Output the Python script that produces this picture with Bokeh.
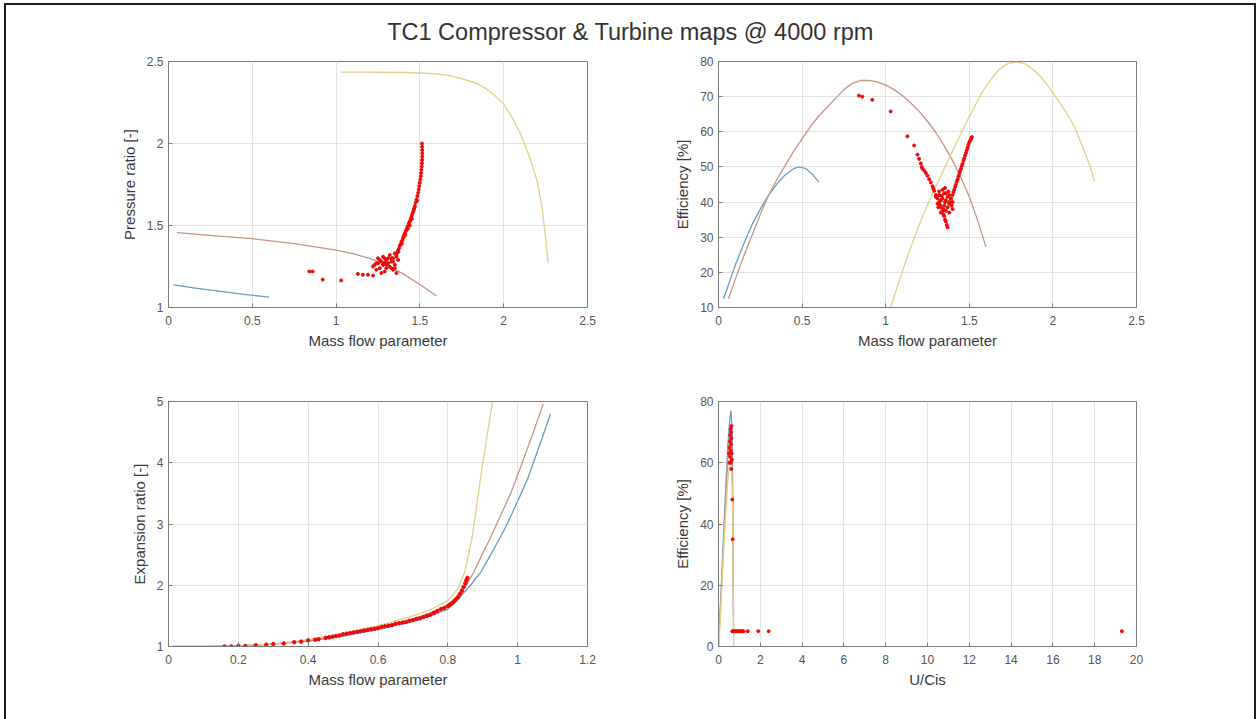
from bokeh.plotting import figure
from bokeh.layouts import column, row
from bokeh.models import Range1d, FixedTicker
from bokeh.core.properties import value
from bokeh.embed import file_html
from bokeh.resources import INLINE

TITLE = "TC1 Compressor & Turbine maps @ 4000 rpm"

# ---------------- compressor: pressure ratio vs mass flow ----------------
pr_blue_x = [0.03, 0.15, 0.30, 0.45, 0.60]
pr_blue_y = [1.138, 1.120, 1.100, 1.080, 1.063]
pr_orange_x = [0.05, 0.30, 0.50, 0.75, 1.00, 1.10, 1.20, 1.30, 1.40, 1.50, 1.60]
pr_orange_y = [1.457, 1.435, 1.420, 1.390, 1.350, 1.328, 1.300, 1.260, 1.205, 1.140, 1.070]
pr_yellow_x = [1.03, 1.20, 1.40, 1.50, 1.60, 1.70, 1.80, 1.85, 1.90, 1.95, 2.00, 2.05, 2.10,
               2.15, 2.20, 2.23, 2.25, 2.265]
pr_yellow_y = [2.435, 2.435, 2.433, 2.430, 2.425, 2.410, 2.380, 2.360, 2.330, 2.290, 2.240,
               2.160, 2.060, 1.930, 1.770, 1.600, 1.430, 1.270]
pr_meas_x = [0.84, 0.86, 0.92, 1.03, 1.13, 1.16, 1.19, 1.22,
             1.22, 1.24, 1.25, 1.26, 1.27, 1.28, 1.29, 1.30, 1.31, 1.32, 1.33, 1.34, 1.35,
             1.36, 1.34, 1.36, 1.30, 1.27, 1.25, 1.32, 1.35, 1.23, 1.29, 1.33, 1.26, 1.28,
             1.31, 1.34, 1.37, 1.30, 1.24, 1.33, 1.35, 1.29,
             1.360, 1.365, 1.370, 1.375, 1.380, 1.385, 1.390, 1.395, 1.400, 1.405, 1.410,
             1.415, 1.420, 1.425, 1.430, 1.435, 1.440, 1.445, 1.450, 1.455, 1.460, 1.465,
             1.470, 1.475, 1.480, 1.485, 1.490, 1.493, 1.496, 1.499, 1.502, 1.505, 1.507,
             1.509, 1.511, 1.512, 1.513, 1.514, 1.514, 1.514, 1.513, 1.512,
             1.372, 1.392, 1.412, 1.428, 1.440, 1.452, 1.468, 1.482]
pr_meas_y = [1.220, 1.220, 1.170, 1.165, 1.205, 1.200, 1.200, 1.195,
             1.250, 1.230, 1.270, 1.240, 1.280, 1.260, 1.220, 1.290, 1.270, 1.250, 1.300,
             1.280, 1.260, 1.310, 1.230, 1.210, 1.240, 1.210, 1.300, 1.320, 1.330, 1.260,
             1.300, 1.240, 1.290, 1.310, 1.300, 1.300, 1.290, 1.260, 1.270, 1.280, 1.240, 1.275,
             1.320, 1.335, 1.350, 1.360, 1.375, 1.385, 1.400, 1.410, 1.425, 1.440, 1.450,
             1.465, 1.475, 1.490, 1.500, 1.515, 1.525, 1.540, 1.555, 1.570, 1.585, 1.600,
             1.620, 1.640, 1.660, 1.680, 1.700, 1.720, 1.740, 1.760, 1.780, 1.800, 1.820,
             1.840, 1.860, 1.880, 1.900, 1.920, 1.940, 1.960, 1.980, 2.000,
             1.340, 1.390, 1.440, 1.480, 1.500, 1.540, 1.610, 1.650]

# ---------------- compressor: efficiency vs mass flow ----------------
ce_blue_x = [0.03, 0.06, 0.10, 0.15, 0.20, 0.25, 0.30, 0.35, 0.40, 0.45, 0.48, 0.52, 0.56, 0.60]
ce_blue_y = [12.5, 16.5, 22.0, 28.0, 33.5, 38.0, 42.0, 45.2, 47.8, 49.5, 50.0, 49.6, 48.0, 45.7]
ce_orange_x = [0.06, 0.10, 0.15, 0.20, 0.25, 0.30, 0.35, 0.40, 0.45, 0.50, 0.55, 0.60, 0.65,
               0.70, 0.75, 0.80, 0.85, 0.90, 0.95, 1.00, 1.05, 1.10, 1.15, 1.20, 1.25, 1.30,
               1.35, 1.40, 1.45, 1.50, 1.55, 1.60]
ce_orange_y = [12.5, 18.0, 24.5, 30.5, 36.5, 42.0, 46.5, 50.5, 54.5, 58.0, 61.5, 64.5, 67.0,
               69.5, 72.0, 73.8, 74.6, 74.6, 74.2, 73.3, 72.0, 70.3, 68.2, 65.8, 63.0, 59.8,
               56.0, 51.8, 47.0, 41.5, 34.8, 27.2]
ce_yellow_x = [1.03, 1.08, 1.13, 1.18, 1.23, 1.28, 1.33, 1.38, 1.43, 1.48, 1.53, 1.58, 1.63,
               1.68, 1.73, 1.78, 1.83, 1.88, 1.93, 1.98, 2.03, 2.08, 2.13, 2.18, 2.22, 2.25]
ce_yellow_y = [10.1, 17.5, 24.5, 31.0, 37.0, 42.5, 47.5, 52.5, 57.5, 62.5, 67.0, 71.5, 75.0,
               77.8, 79.4, 79.9, 79.4, 77.8, 75.5, 72.5, 69.0, 65.5, 61.3, 55.5, 50.5, 45.7]
ce_meas_x = [0.84, 0.86, 0.92, 1.03,
             1.13, 1.17, 1.19, 1.20, 1.21, 1.215, 1.22, 1.23, 1.24, 1.25, 1.26, 1.27, 1.28,
             1.285, 1.29, 1.30, 1.31, 1.32, 1.325, 1.33, 1.34, 1.345, 1.35, 1.355, 1.36,
             1.365, 1.37,
             1.30, 1.31, 1.32, 1.33, 1.34, 1.35, 1.36, 1.37, 1.38, 1.39, 1.40, 1.35,
             1.33, 1.36, 1.38, 1.37, 1.345, 1.355, 1.32, 1.34, 1.36, 1.38, 1.40, 1.335,
             1.375, 1.395, 1.315, 1.355,
             1.38, 1.39, 1.40, 1.405, 1.41, 1.415, 1.42, 1.425, 1.43, 1.435, 1.44, 1.445,
             1.45, 1.455, 1.46, 1.465, 1.47, 1.475, 1.48, 1.485, 1.49, 1.495, 1.50, 1.505,
             1.51, 1.515]
ce_meas_y = [70.3, 70.0, 69.1, 65.8,
             58.7, 56.1, 53.5, 52.3, 51.0, 50.0, 49.5, 49.0, 48.3, 47.5, 46.5, 45.6, 44.5,
             43.8, 43.2, 42.0, 41.0, 40.0, 39.2, 38.5, 37.5, 36.5, 36.0, 35.0, 34.5,
             33.5, 32.8,
             41.5, 39.5, 42.0, 40.5, 41.0, 39.0, 40.5, 38.5, 39.5, 41.0, 38.0, 42.5,
             37.0, 37.5, 37.0, 41.5, 38.0, 40.0, 43.0, 43.5, 42.5, 42.0, 40.0, 41.8,
             43.0, 39.0, 38.5, 44.0,
             40.0, 41.0, 42.0, 42.8, 43.5, 44.3, 45.0, 45.8, 46.5, 47.3, 48.0, 48.8,
             49.5, 50.3, 51.0, 51.8, 52.5, 53.3, 54.0, 54.8, 55.5, 56.3, 57.0, 57.5,
             58.0, 58.5]

# ---------------- turbine: expansion ratio vs mass flow ----------------
er_blue_x = [0.01, 0.10, 0.20, 0.30, 0.40, 0.50, 0.60, 0.70, 0.75, 0.80, 0.83, 0.865,
             0.895, 0.923, 0.95, 0.97, 0.99, 1.01, 1.03, 1.045, 1.07, 1.094]
er_blue_y = [1.00, 1.00, 1.01, 1.04, 1.09, 1.17, 1.28, 1.41, 1.50, 1.61, 1.78, 2.00,
             2.22, 2.50, 2.78, 3.00, 3.25, 3.50, 3.76, 4.00, 4.40, 4.80]
er_orange_x = [0.01, 0.10, 0.20, 0.30, 0.40, 0.50, 0.60, 0.70, 0.75, 0.80, 0.83, 0.853,
               0.875, 0.898, 0.92, 0.94, 0.96, 0.98, 1.00, 1.013, 1.045, 1.073]
er_orange_y = [1.00, 1.00, 1.01, 1.04, 1.10, 1.19, 1.31, 1.45, 1.55, 1.67, 1.84, 2.00,
               2.22, 2.50, 2.75, 3.00, 3.25, 3.50, 3.80, 4.00, 4.50, 4.96]
er_yellow_x = [0.01, 0.10, 0.20, 0.30, 0.40, 0.50, 0.60, 0.70, 0.75, 0.80, 0.83, 0.85,
               0.87, 0.885, 0.90, 0.914, 0.928]
er_yellow_y = [1.00, 1.00, 1.01, 1.04, 1.11, 1.21, 1.34, 1.50, 1.60, 1.75, 1.95, 2.24,
               2.80, 3.40, 4.00, 4.50, 5.00]
er_meas_x = [0.16, 0.18, 0.20, 0.22, 0.25, 0.28, 0.30, 0.33, 0.36, 0.38, 0.40, 0.42,
             0.43, 0.45, 0.46, 0.47, 0.48, 0.49, 0.50, 0.51, 0.52, 0.53, 0.54, 0.55,
             0.56, 0.57, 0.58, 0.59, 0.60, 0.61, 0.62, 0.63, 0.64, 0.65, 0.66, 0.67,
             0.68, 0.69, 0.70, 0.71, 0.72, 0.73, 0.74, 0.75, 0.76, 0.77, 0.78, 0.79,
             0.80, 0.805, 0.81, 0.815, 0.82, 0.825, 0.83, 0.835, 0.84, 0.845, 0.85,
             0.853, 0.856]
er_meas_y = [1.00, 1.00, 1.01, 1.01, 1.02, 1.03, 1.04, 1.05, 1.07, 1.08, 1.10, 1.11,
             1.12, 1.14, 1.15, 1.16, 1.17, 1.18, 1.20, 1.21, 1.22, 1.23, 1.24, 1.25,
             1.26, 1.27, 1.28, 1.29, 1.30, 1.32, 1.33, 1.34, 1.35, 1.37, 1.38, 1.39,
             1.40, 1.42, 1.43, 1.45, 1.46, 1.48, 1.50, 1.52, 1.55, 1.58, 1.61, 1.63,
             1.66, 1.68, 1.70, 1.72, 1.75, 1.78, 1.81, 1.86, 1.91, 1.97, 2.03,
             2.08, 2.12]

# ---------------- turbine: efficiency vs U/Cis ----------------
te_blue_x = [0.00, 0.15, 0.30, 0.45, 0.55, 0.60, 0.65, 0.68, 0.70, 0.72]
te_blue_y = [0.0, 22.0, 45.0, 66.0, 75.0, 77.0, 70.0, 50.0, 25.0, 10.0]
te_orange_x = [0.00, 0.15, 0.30, 0.45, 0.52, 0.58, 0.64, 0.68, 0.70, 0.72]
te_orange_y = [0.0, 20.0, 42.0, 62.0, 68.0, 72.0, 65.0, 45.0, 20.0, 5.0]
te_yellow_x = [0.02, 0.15, 0.30, 0.45, 0.56, 0.64, 0.68, 0.71, 0.73]
te_yellow_y = [0.0, 18.0, 38.0, 55.0, 62.0, 58.0, 40.0, 15.0, 0.0]
te_meas_x = [0.52, 0.55, 0.58, 0.60, 0.62, 0.60, 0.58, 0.62, 0.55, 0.57, 0.63, 0.64,
             0.50, 0.53, 0.59, 0.61, 0.66, 0.68,
             0.66, 0.70, 0.75, 0.80, 0.85, 0.90, 0.95, 1.00, 1.05, 1.10, 1.15, 1.20, 1.40,
             1.90, 2.40, 19.3]
te_meas_y = [60.0, 62.0, 64.0, 66.0, 68.0, 70.0, 71.0, 72.0, 67.0, 69.0, 63.0, 61.0,
             63.0, 65.0, 60.0, 58.0, 48.0, 35.0,
             5.0, 5.0, 5.0, 5.0, 5.0, 5.0, 5.0, 5.0, 5.0, 5.0, 5.0, 5.0, 5.0,
             5.0, 5.0, 5.0]

# ---------------- axis ticks ----------------
mf_ticks = [0.0, 0.5, 1.0, 1.5, 2.0, 2.5]
mf_labels = ["0", "0.5", "1", "1.5", "2", "2.5"]
pr_ticks = [1.0, 1.5, 2.0, 2.5]
pr_labels = ["1", "1.5", "2", "2.5"]
ce_ticks = [10, 20, 30, 40, 50, 60, 70, 80]
ce_labels = ["10", "20", "30", "40", "50", "60", "70", "80"]
tmf_ticks = [0.0, 0.2, 0.4, 0.6, 0.8, 1.0, 1.2]
tmf_labels = ["0", "0.2", "0.4", "0.6", "0.8", "1", "1.2"]
er_ticks = [1, 2, 3, 4, 5]
er_labels = ["1", "2", "3", "4", "5"]
uc_ticks = [0, 2, 4, 6, 8, 10, 12, 14, 16, 18, 20]
uc_labels = ["0", "2", "4", "6", "8", "10", "12", "14", "16", "18", "20"]
te_ticks = [0, 20, 40, 60, 80]
te_labels = ["0", "20", "40", "60", "80"]

FONT = "Liberation Sans"
BLUE = "#6a9cc4"
ORANGE = "#c99582"
YELLOW = "#e4cf86"
RED = "#ee0a0a"
AXIS_COL = "#7a7a7a"


def panel(width, height, mb, xr, yr, xt, xl, yt, yl, xlabel, ylabel):
    p = figure(width=width, height=height, x_range=Range1d(*xr), y_range=Range1d(*yr),
               output_backend="svg", toolbar_location=None,
               min_border_left=mb[0], min_border_right=mb[1],
               min_border_top=mb[2], min_border_bottom=mb[3])
    p.border_fill_color = None
    p.background_fill_color = "white"
    p.outline_line_color = AXIS_COL
    p.outline_line_width = 1
    for ax, ticks, labels, name in ((p.xaxis[0], xt, xl, xlabel), (p.yaxis[0], yt, yl, ylabel)):
        ax.ticker = FixedTicker(ticks=ticks)
        ax.major_label_overrides = {t: s for t, s in zip(ticks, labels)}
        ax.axis_label = name
        ax.axis_label_text_font = FONT
        ax.axis_label_text_font_size = "15px"
        ax.axis_label_text_font_style = "normal"
        ax.axis_label_text_color = "#3a3a3a"
        ax.major_label_text_font = FONT
        ax.major_label_text_font_size = "12px"
        ax.major_label_text_color = "#555555"
        ax.axis_line_color = AXIS_COL
        ax.major_tick_line_color = AXIS_COL
        ax.major_tick_in = 4
        ax.major_tick_out = 0
        ax.minor_tick_line_color = None
    p.xaxis[0].major_label_standoff = 8
    p.xaxis[0].axis_label_standoff = 4
    p.yaxis[0].major_label_standoff = 5
    p.yaxis[0].axis_label_standoff = 6
    p.grid.grid_line_color = "#e3e3e3"
    p.grid.grid_line_width = 1
    return p


def curves(p, series):
    for xs, ys, col in series:
        p.line(xs, ys, line_color=col, line_width=1.3)


# title strip
t = figure(width=1258, height=56, x_range=Range1d(0, 1258), y_range=Range1d(56, 0),
           output_backend="svg", toolbar_location=None, min_border=0,
           x_axis_location=None, y_axis_location=None)
t.grid.visible = False
t.outline_line_color = None
t.background_fill_color = None
t.border_fill_color = None
t.text(x=[630], y=[31], text=[TITLE], text_align="center", text_baseline="middle",
       text_font=value(FONT), text_font_size="23.5px", text_color="#333333")

p1 = panel(650, 298, (168, 63, 5, 47), (0, 2.5), (1, 2.5), mf_ticks, mf_labels,
           pr_ticks, pr_labels, "Mass flow parameter", "Pressure ratio [-]")
curves(p1, [(pr_blue_x, pr_blue_y, BLUE), (pr_orange_x, pr_orange_y, ORANGE),
            (pr_yellow_x, pr_yellow_y, YELLOW)])
p1.scatter(pr_meas_x, pr_meas_y, size=3, color=RED)

p2 = panel(608, 298, (68, 122, 5, 47), (0, 2.5), (10, 80), mf_ticks, mf_labels,
           ce_ticks, ce_labels, "Mass flow parameter", "Efficiency [%]")
curves(p2, [(ce_blue_x, ce_blue_y, BLUE), (ce_orange_x, ce_orange_y, ORANGE),
            (ce_yellow_x, ce_yellow_y, YELLOW)])
p2.scatter(ce_meas_x, ce_meas_y, size=3, color=RED)

p3 = panel(650, 365, (168, 63, 47, 73), (0, 1.2), (1, 5), tmf_ticks, tmf_labels,
           er_ticks, er_labels, "Mass flow parameter", "Expansion ratio [-]")
curves(p3, [(er_blue_x, er_blue_y, BLUE), (er_orange_x, er_orange_y, ORANGE),
            (er_yellow_x, er_yellow_y, YELLOW)])
p3.scatter(er_meas_x, er_meas_y, size=3.5, color=RED)

p4 = panel(608, 365, (68, 122, 47, 73), (0, 20), (0, 80), uc_ticks, uc_labels,
           te_ticks, te_labels, "U/Cis", "Efficiency [%]")
curves(p4, [(te_blue_x, te_blue_y, BLUE), (te_orange_x, te_orange_y, ORANGE),
            (te_yellow_x, te_yellow_y, YELLOW)])
p4.scatter(te_meas_x, te_meas_y, size=3, color=RED)

frame_css = ("inset 0 3px 0 0 #ffffff, inset 4px 0 0 0 #ffffff, inset -2px 0 0 0 #ffffff, "
             "inset 0 5px 0 0 #1e1e1e, inset 6px 0 0 0 #1e1e1e, inset -4px 0 0 0 #1e1e1e")
layout = column(t, row(p1, p2), row(p3, p4), styles={"box-shadow": frame_css})

open("out.html", "w").write(file_html(layout, INLINE))
